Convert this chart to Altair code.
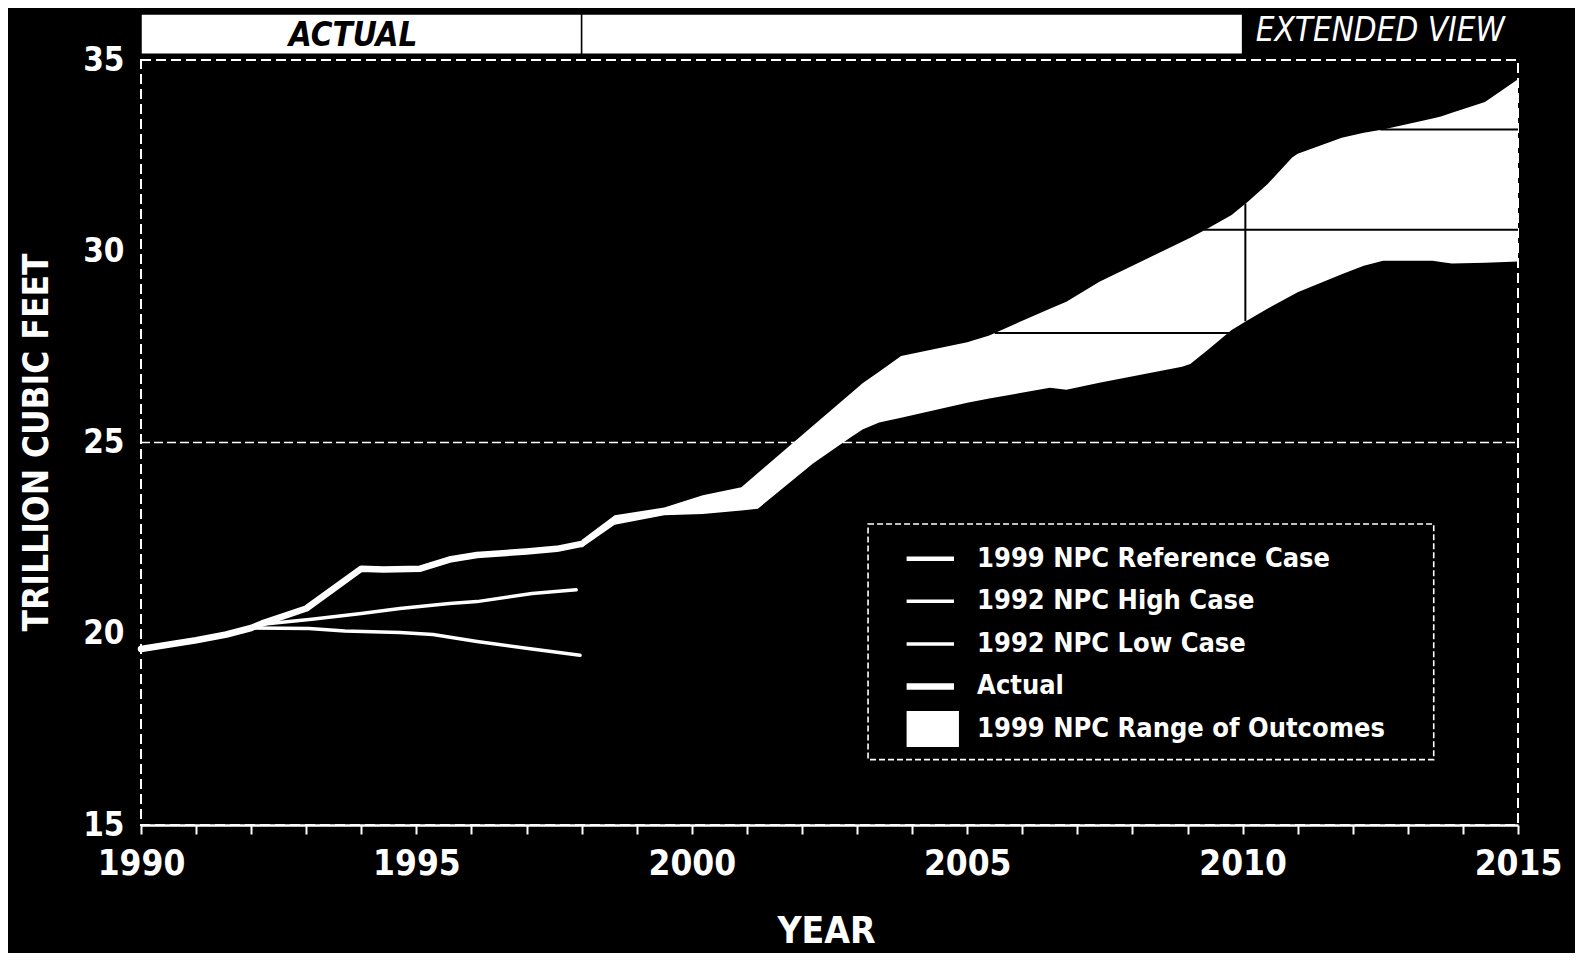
import altair as alt
import pandas as pd

FONT = "'Liberation Sans Narrow', 'Arial Narrow', 'DejaVu Sans Condensed', 'Roboto Condensed', sans-serif"

# ---- data ----
common_years = [1990.0, 1991.0, 1991.55, 1992.0]
common_vals = [19.6, 19.83, 19.98, 20.15]

actual_years = [1992.2, 1993.0, 1994.0, 1994.4, 1995.07, 1995.6, 1996.1, 1997.0, 1997.55, 1998.0]
actual_vals = [20.27, 20.66, 21.70, 21.68, 21.70, 21.94, 22.06, 22.15, 22.22, 22.35]

high_years = [1992.2, 1993.1, 1994.0, 1994.7, 1995.6, 1996.1, 1997.1, 1997.9]
high_vals = [20.25, 20.38, 20.53, 20.66, 20.79, 20.84, 21.05, 21.15]

low_years = [1993.05, 1993.7, 1994.7, 1995.3, 1996.1, 1997.1, 1997.97]
low_vals = [20.14, 20.07, 20.03, 19.98, 19.8, 19.6, 19.44]

band_years = [1998.0, 1998.6, 1999.5, 2000.2, 2000.9, 2001.2, 2002.2, 2002.9, 2003.1, 2003.4,
              2003.8, 2005.0, 2005.4, 2006.5, 2006.8, 2007.4, 2008.9, 2009.05, 2009.35, 2009.8,
              2010.1, 2010.45, 2010.9, 2011.0, 2011.8, 2012.2, 2012.55, 2013.45, 2013.6, 2013.8,
              2014.4, 2015.0]
band_upper = [22.45, 23.1, 23.3, 23.62, 23.83, 24.2, 25.44, 26.3, 26.55, 26.85,
              27.26, 27.62, 27.8, 28.5, 28.68, 29.2, 30.25, 30.35, 30.58, 30.95,
              31.3, 31.75, 32.45, 32.55, 32.97, 33.1, 33.18, 33.47, 33.52, 33.62,
              33.9, 34.5]
band_lower = [22.25, 22.85, 23.1, 23.13, 23.22, 23.27, 24.45, 25.15, 25.34, 25.52,
              25.65, 26.04, 26.15, 26.43, 26.38, 26.56, 26.98, 27.05, 27.4, 27.94,
              28.2, 28.5, 28.85, 28.93, 29.4, 29.62, 29.75, 29.75, 29.72, 29.68,
              29.7, 29.73]

# dark division lines visible inside the range band
div_h_level = [27.86, 30.56, 33.18]
div_h_start = [2005.5, 2009.3, 2012.5]
div_h_end = [2009.85, 2015.0, 2015.0]
div_v_year = [2010.05]
div_v_low = [28.17]
div_v_high = [31.25]

grid_levels = [25]

header_labels = ["ACTUAL", ""]
header_start = [1990, 1998]
header_end = [1998, 2010]
extended_label = "EXTENDED VIEW"

legend_labels = ["1999 NPC Reference Case", "1992 NPC High Case", "1992 NPC Low Case",
                 "Actual", "1999 NPC Range of Outcomes"]

x_ticks = list(range(1990, 2016))
y_ticks = [15, 20, 25, 30, 35]

# ---- tables ----
def series(name, ys, vs):
    return pd.DataFrame({"year": common_years + ys, "value": common_vals + vs, "series": name})

lines_df = pd.concat([
    series("1992 NPC Low Case", low_years, low_vals),
    series("1992 NPC High Case", high_years, high_vals),
    series("Actual", actual_years, actual_vals),
])
width_map = {"Actual": 6.5, "1992 NPC High Case": 3.5, "1992 NPC Low Case": 3.5}
lines_df["sw"] = lines_df["series"].map(width_map)

band_df = pd.DataFrame({"year": band_years, "lo": band_lower, "hi": band_upper})
divh_df = pd.DataFrame({"y": div_h_level, "x": div_h_start, "x2": div_h_end})
divv_df = pd.DataFrame({"x": div_v_year, "y": div_v_low, "y2": div_v_high})
grid_df = pd.DataFrame({"y": grid_levels})

HEAD_Y0, HEAD_Y1 = 35.15, 36.2
header_df = pd.DataFrame({"x": header_start, "x2": header_end, "label": header_labels})
header_df["y"] = HEAD_Y0
header_df["y2"] = HEAD_Y1

# legend layout (positions in data units)
LEG_X0, LEG_X1, LEG_Y0, LEG_Y1 = 2003.2, 2013.47, 16.71, 22.87
SYM_X0, SYM_X1, TXT_X = 2003.9, 2004.76, 2005.18
ROW0, ROW_STEP = 21.96, 1.113
leg_df = pd.DataFrame({"label": legend_labels})
leg_df["row"] = range(len(legend_labels))
leg_df["y"] = ROW0 - leg_df["row"] * ROW_STEP
leg_df["x0"] = SYM_X0
leg_df["x1"] = SYM_X1
leg_df["tx"] = TXT_X
leg_df["sw"] = [4.5, 3.5, 3.5, 6.5, 0]
leg_lines = leg_df[leg_df["row"] < 4]
leg_sq = leg_df[leg_df["row"] == 4].copy()
leg_sq["y0"] = leg_sq["y"] - 0.47
leg_sq["y1"] = leg_sq["y"] + 0.47
leg_sq["x1"] = SYM_X1 + 0.09
legbox_df = pd.DataFrame({"x": [LEG_X0], "x2": [LEG_X1], "y": [LEG_Y0], "y2": [LEG_Y1]})

# ---- scales & axes ----
xs = alt.Scale(domain=[1990, 2015], nice=False, zero=False)
ys = alt.Scale(domain=[15, 35], nice=False, zero=False)

x_axis = alt.Axis(values=x_ticks, format="d",
                  labelExpr="datum.value % 5 === 0 ? datum.label : ''",
                  tickSize=9, tickColor="white", tickWidth=2,
                  domainColor="white", domainWidth=2.5,
                  labelColor="white", labelFont=FONT, labelFontSize=35, labelFontWeight="bold",
                  labelPadding=12, labelFlush=False, labelOverlap=False, labelBound=False,
                  grid=False, title="YEAR", titleColor="white", titleFont=FONT,
                  titleFontSize=37, titleFontWeight="bold", titleX=685, titleY=106,
                  titleBaseline="middle", titleAlign="center")
y_axis = alt.Axis(values=y_ticks, format="d", ticks=False, domain=False, grid=False,
                  labelColor="white", labelFont=FONT, labelFontSize=33, labelFontWeight="bold",
                  labelPadding=17, title="TRILLION CUBIC FEET", titleColor="white",
                  titleFont=FONT, titleFontSize=35, titleFontWeight="bold", titleAngle=270,
                  titleX=-105, titleY=382, titleBaseline="middle", titleAlign="center")

X = lambda f: alt.X(f, type="quantitative", scale=xs, axis=x_axis)
Y = lambda f: alt.Y(f, type="quantitative", scale=ys, axis=y_axis)

grid = alt.Chart(grid_df).mark_rule(color="white", strokeWidth=1.6, strokeDash=[9, 4]).encode(
    y=Y("y"), x=alt.value(0), x2=alt.value(1377))

band = alt.Chart(band_df).mark_area(color="white", opacity=1, interpolate="linear").encode(
    x=X("year"), y=Y("lo"), y2="hi")

lines = alt.Chart(lines_df).mark_line(color="white", strokeCap="round", strokeJoin="round").encode(
    x=X("year"), y=Y("value"), detail="series:N",
    strokeWidth=alt.StrokeWidth("sw:Q", scale=None))

divh = alt.Chart(divh_df).mark_rule(color="black", strokeWidth=2).encode(
    x=X("x"), x2="x2", y=Y("y"))
divv = alt.Chart(divv_df).mark_rule(color="black", strokeWidth=2).encode(
    x=X("x"), y=Y("y"), y2="y2")

legbox = alt.Chart(legbox_df).mark_rect(fill="black", stroke="white", strokeWidth=1.6,
                                        strokeDash=[6, 3]).encode(
    x=X("x"), x2="x2", y=Y("y"), y2="y2")
leg_sym = alt.Chart(leg_lines).mark_rule(color="white").encode(
    x=X("x0"), x2="x1", y=Y("y"), strokeWidth=alt.StrokeWidth("sw:Q", scale=None))
leg_box_sym = alt.Chart(leg_sq).mark_rect(color="white").encode(
    x=X("x0"), x2="x1", y=Y("y0"), y2="y1")
leg_txt = alt.Chart(leg_df).mark_text(align="left", baseline="middle", color="white",
                                      font=FONT, fontSize=27, fontWeight="bold").encode(
    x=X("tx"), y=Y("y"), text="label:N")

head_rect = alt.Chart(header_df).mark_rect(fill="white", stroke="black", strokeWidth=1.5).encode(
    x=X("x"), x2="x2", y=Y("y"), y2="y2")
head_txt = alt.Chart(pd.DataFrame({"x": [1993.85], "y": [35.62], "t": [header_labels[0]]})).mark_text(
    align="center", baseline="middle", color="black", font=FONT, fontSize=33,
    fontWeight="bold", fontStyle="italic").encode(x=X("x"), y=Y("y"), text="t:N")
ext_txt = alt.Chart(pd.DataFrame({"x": [2012.5], "y": [35.75], "t": [extended_label]})).mark_text(
    align="center", baseline="middle", color="white", font=FONT, fontSize=33,
    fontStyle="italic").encode(x=X("x"), y=Y("y"), text="t:N")

chart = alt.layer(grid, band, lines, divh, divv, legbox, leg_sym, leg_box_sym, leg_txt,
                  head_rect, head_txt, ext_txt).properties(
    width=1377, height=765,
    padding={"left": 133, "top": 52, "right": 57, "bottom": 128},
    autosize=alt.AutoSizeParams(type="none"),
    background="black",
).configure_view(stroke="white", strokeWidth=2, strokeDash=[10, 5])

chart.save("out.html", embed_options={"renderer": "svg", "actions": False})
